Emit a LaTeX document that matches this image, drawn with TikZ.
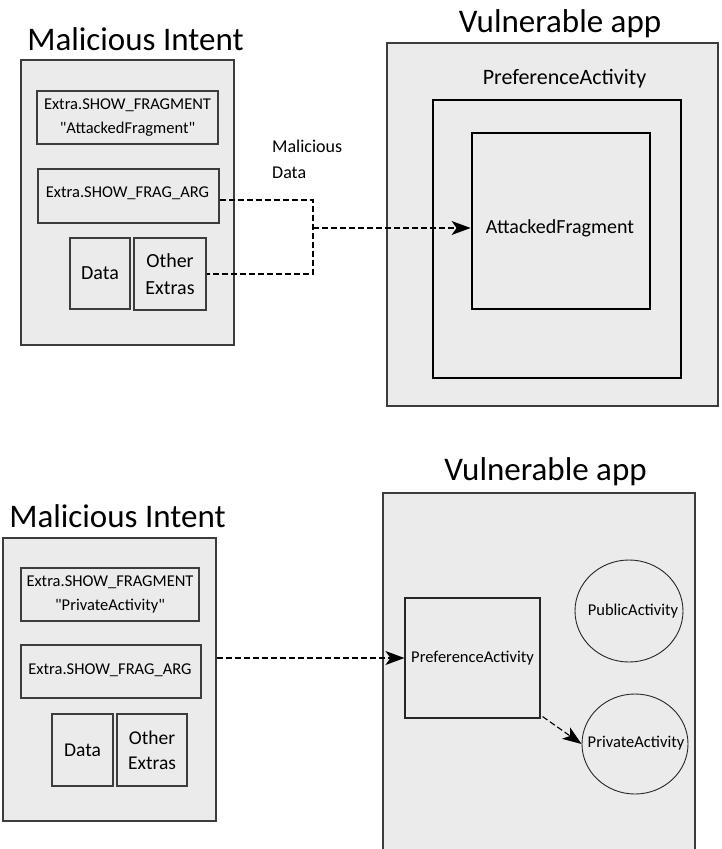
\documentclass[tikz,border=0pt]{standalone}
\usepackage{fontspec}
\setmainfont{Carlito}[Ligatures=TeXOff]
\usetikzlibrary{arrows.meta,shapes.geometric}
\definecolor{boxfill}{HTML}{EBEBEB}
\definecolor{edgegray}{HTML}{3C3C3C}
\newcommand{\fsz}[2]{\fontsize{#1}{#2}\selectfont}
\begin{document}
\begin{tikzpicture}[x=1pt,y=-1pt,
  panel/.style={draw=edgegray, line width=1.3pt, fill=boxfill, inner sep=0pt},
  field/.style={draw=edgegray, line width=1.3pt, inner sep=0pt, align=center},
  thickbox/.style={draw=black, line width=2.8pt, inner sep=0pt},
  thinbox/.style={draw=black!85, line width=1.1pt, inner sep=0pt, align=center},
  circ/.style={draw=black!85, ellipse, line width=0.9pt, inner sep=0pt},
  dashline/.style={dash pattern=on 6pt off 3pt, line width=1.1pt},
  tipped/.style={-{Stealth[length=19pt,width=14pt,inset=5pt,sep=0pt]}},
  title/.style={anchor=base, font=\fsz{33}{38}},
  lbl/.style={inner sep=0pt, align=center}
]
\useasboundingbox (0,0) rectangle (721,849);
\fill[white] (0,0) rectangle (721,849);

% ---------------- top half ----------------
\node[title] (t1) at (135.5,50) {Malicious Intent};
\node[panel, minimum width=213pt, minimum height=285pt] (mi1) at (127.5,202.5) {};
\node[field, minimum width=181pt, minimum height=53pt, font=\fsz{16.5}{24}] (sf1) at (127.5,117.5)
  {Extra.SHOW\_FRAGMENT\\"AttackedFragment"};
\node[field, minimum width=181pt, minimum height=54pt] (fa1) at (128.5,196) {};
\node[lbl, font=\fsz{16.5}{20}] (fa1t) at (127.5,193) {Extra.SHOW\_FRAG\_ARG};
\node[field, minimum width=60pt, minimum height=71pt, font=\fsz{20}{26}] (d1) at (100,273.5) {Data};
\node[field, minimum width=72pt, minimum height=72pt, font=\fsz{20}{27}] (oe1) at (170,274) {Other\\Extras};

\node[lbl, anchor=west, align=left, font=\fsz{18}{26}] (md) at (272,159) {Malicious\\Data};

\node[title] (t2) at (560,32) {Vulnerable app};
\node[panel, minimum width=331pt, minimum height=363pt] (app1) at (552.5,224.5) {};
\node[lbl, font=\fsz{22}{26}] (pref1t) at (564.5,79) {PreferenceActivity};
\node[thickbox, minimum width=248pt, minimum height=278pt] (pref1) at (557,239) {};
\node[thickbox, minimum width=178pt, minimum height=176pt] (af) at (561,221) {};
\node[lbl, font=\fsz{20}{24}] (aft) at (560,228) {AttackedFragment};

\coordinate (jn) at (313,228);
\draw[dashline] ([yshift=-4pt]fa1.east) -| (jn) |- (oe1.east);
\draw[dashline, tipped] (jn) -- (jn -| af.west);

% ---------------- bottom half ----------------
\node[title] (t3) at (117.5,527) {Malicious Intent};
\node[panel, minimum width=213pt, minimum height=283pt] (mi2) at (109.5,679.5) {};
\node[field, minimum width=178pt, minimum height=53pt, font=\fsz{16.5}{24}] (sf2) at (110,594.5)
  {Extra.SHOW\_FRAGMENT\\"PrivateActivity"};
\node[field, minimum width=180pt, minimum height=53pt] (fa2) at (111,671.5) {};
\node[lbl, font=\fsz{16.5}{20}] (fa2t) at (110,670) {Extra.SHOW\_FRAG\_ARG};
\node[field, minimum width=61pt, minimum height=72pt, font=\fsz{19.5}{26}] (d2) at (82.5,750) {Data};
\node[field, minimum width=70pt, minimum height=72pt, font=\fsz{19.5}{25}] (oe2) at (152,750) {Other\\Extras};

\node[title] (t4) at (545.5,480) {Vulnerable app};
\node[panel, minimum width=312pt, minimum height=407pt] (app2) at (539,696.5) {};
\node[thinbox, minimum width=135pt, minimum height=120pt, font=\fsz{16.5}{20}] (pa) at (472.5,658) {PreferenceActivity};
\node[circ, minimum width=108pt, minimum height=102pt] (pub) at (629,611) {};
\node[lbl, font=\fsz{16.5}{20}] (pubt) at (633,611) {PublicActivity};
\node[circ, minimum width=106pt, minimum height=100pt] (priv) at (635,744) {};
\node[lbl, font=\fsz{16.5}{20}] (privt) at (636,743) {PrivateActivity};

\draw[dashline, tipped] (pa.west -| mi2.east) -- (pa.west);
\draw[dashline, tipped] ([shift={(2pt,2pt)}]pa.south east) -- (priv.west);
\end{tikzpicture}
\end{document}
